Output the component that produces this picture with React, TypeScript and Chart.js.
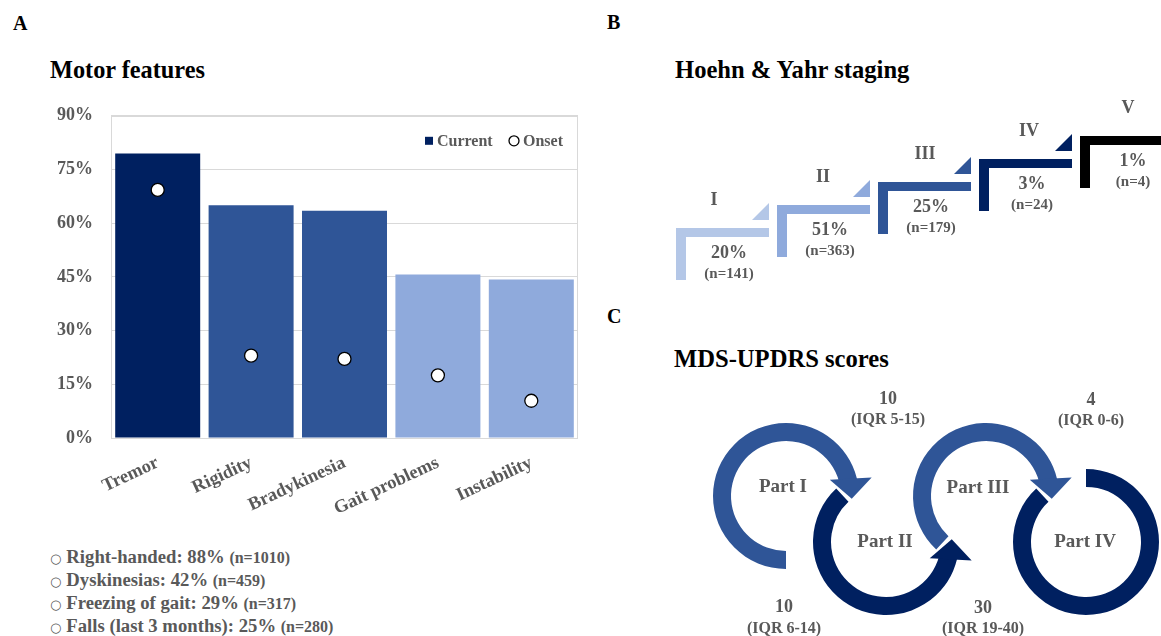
import React, { useEffect, useRef } from 'react';
import { Chart, registerables } from 'chart.js';
Chart.register(...registerables);

const FONT = '"Liberation Serif", "Times New Roman", serif';
const GRAY = '#595959';

// ---------- Panel A: motor features ----------
const motorFeatures = ['Tremor', 'Rigidity', 'Bradykinesia', 'Gait problems', 'Instability'];
const currentPct = [79.5, 65, 63.5, 45.7, 44.3];
const onsetPct = [69.3, 23, 22.1, 17.5, 10.4];
const barColors = ['#002060', '#2F5597', '#2F5597', '#8FAADC', '#8FAADC'];
const yTickValues = [0, 15, 30, 45, 60, 75, 90];

// bullet list under panel A
const bulletLabels = ['Right-handed', 'Dyskinesias', 'Freezing of gait', 'Falls (last 3 months)'];
const bulletPct = [88, 42, 29, 25];
const bulletN = [1010, 459, 317, 280];

// ---------- Panel B: Hoehn & Yahr ----------
const hyStages = ['I', 'II', 'III', 'IV', 'V'];
const hyPct = [20, 51, 25, 3, 1];
const hyN = [141, 363, 179, 24, 4];
const hyColors = ['#B4C7E7', '#8FAADC', '#2F5597', '#002060', '#000000'];

// ---------- Panel C: MDS-UPDRS ----------
const updrsParts = ['Part I', 'Part II', 'Part III', 'Part IV'];
const updrsMedian = [10, 10, 30, 4];
const updrsIqrLow = [6, 5, 19, 0];
const updrsIqrHigh = [14, 15, 40, 6];
const updrsColors = ['#2F5597', '#002060', '#2F5597', '#002060'];
const updrsSlot = [1, 2, 3, 4];
const updrsRow = [1, 0, 1, 0];

const plotBoxPlugin = {
  id: 'plotBox',
  beforeDatasetsDraw(chart: any) {
    const { ctx, chartArea: a } = chart;
    ctx.save();
    ctx.strokeStyle = '#d9d9d9';
    ctx.lineWidth = 1;
    ctx.strokeRect(Math.round(a.left) + 0.5, Math.round(a.top) + 0.5, Math.round(a.right - a.left) - 1, Math.round(a.bottom - a.top));
    ctx.restore();
  },
};

const innerLegendPlugin = {
  id: 'innerLegend',
  afterDraw(chart: any) {
    const { ctx, chartArea: a } = chart;
    const ds = chart.data.datasets;
    const cur = ds.find((d: any) => d.type === 'bar');
    const ons = ds.find((d: any) => d.type === 'line');
    const y = a.top + 25;
    ctx.save();
    ctx.font = `bold 16px ${FONT}`;
    ctx.fillStyle = GRAY;
    ctx.textBaseline = 'middle';
    ctx.textAlign = 'left';
    const xOnsetText = a.right - 55;
    const xCurText = a.right - 141;
    ctx.fillText(ons.label, xOnsetText, y + 1);
    ctx.fillText(cur.label, xCurText, y + 1);
    ctx.fillStyle = '#002060';
    ctx.fillRect(xCurText - 12, y - 4, 8, 8);
    ctx.beginPath();
    ctx.arc(xOnsetText - 9, y, 5, 0, Math.PI * 2);
    ctx.fillStyle = '#fff';
    ctx.fill();
    ctx.lineWidth = 1.3;
    ctx.strokeStyle = '#000';
    ctx.stroke();
    ctx.restore();
  },
};

const hyLabelDx = [38, 46, 47, 50, 48];

const hyPlugin = {
  id: 'hySteps',
  afterDatasetsDraw(chart: any) {
    const ctx = chart.ctx;
    const pts = chart.getDatasetMeta(0).data;
    const W = 93, T = 9, H = 52, TRI = 17, TRIGAP = 8;
    ctx.save();
    pts.forEach((p: any, i: number) => {
      const x = p.x, y = p.y;
      ctx.fillStyle = hyColors[i];
      ctx.fillRect(x, y, W, T);
      ctx.fillRect(x, y, T + 1, H);
      if (i < pts.length - 1) {
        ctx.beginPath();
        ctx.moveTo(x + W - TRI, y - TRIGAP);
        ctx.lineTo(x + W, y - TRIGAP);
        ctx.lineTo(x + W, y - TRIGAP - TRI);
        ctx.closePath();
        ctx.fill();
      }
      ctx.fillStyle = GRAY;
      ctx.textAlign = 'center';
      ctx.textBaseline = 'middle';
      ctx.font = `bold 18px ${FONT}`;
      ctx.fillText(hyStages[i], x + hyLabelDx[i], y - 28);
      ctx.fillText(hyPct[i] + '%', x + 53, y + 25);
      ctx.font = `bold 15px ${FONT}`;
      ctx.fillText(`(n=${hyN[i]})`, x + 53, y + 46);
    });
    ctx.restore();
  },
};

const RIN = 55, ROUT = 73;
const ringArcs = [
  { start: 90, end: 345, dir: 1, arrow: true },
  { start: 227, end: 15, dir: -1, arrow: true },
  { start: 133, end: 345, dir: 1, arrow: true },
  { start: 270, end: 587, dir: 1, arrow: false },
];
const partLabelOffset = [[-3, -9], [-1, 0], [-8, -8], [-1, 0]];
const scoreOffset = [[-2, 111, 133], [2, -143, -122], [-3, 112, 133], [5, -142, -121]];
const rad = (d: number) => (d * Math.PI) / 180;

const updrsPlugin = {
  id: 'updrsRings',
  afterDatasetsDraw(chart: any) {
    const ctx = chart.ctx;
    const pts = chart.getDatasetMeta(0).data;
    ctx.save();
    pts.forEach((p: any, i: number) => {
      const cx = p.x, cy = p.y;
      const r = ringArcs[i];
      ctx.fillStyle = updrsColors[i];
      const ext = r.arrow ? r.dir * 6 : 0;
      const a0 = rad(r.start), a1 = rad(r.end + ext);
      ctx.beginPath();
      ctx.arc(cx, cy, ROUT, a0, a1, r.dir < 0);
      ctx.arc(cx, cy, RIN, a1, a0, r.dir > 0);
      ctx.closePath();
      ctx.fill();
      if (r.arrow) {
        const a = rad(r.end);
        const o = rad(r.end + r.dir * 12);
        const mx = cx + 67 * Math.cos(a), my = cy + 67 * Math.sin(a);
        const ux = Math.cos(o), uy = Math.sin(o);
        const tx = r.dir * -Math.sin(o), ty = r.dir * Math.cos(o);
        ctx.beginPath();
        ctx.moveTo(mx - 21 * ux, my - 21 * uy);
        ctx.lineTo(mx + 21 * ux, my + 21 * uy);
        ctx.lineTo(mx + 20 * tx, my + 20 * ty);
        ctx.closePath();
        ctx.fill();
      }
    });
    ctx.fillStyle = GRAY;
    ctx.textAlign = 'center';
    ctx.textBaseline = 'middle';
    pts.forEach((p: any, i: number) => {
      const cx = p.x, cy = p.y;
      ctx.font = `bold 19px ${FONT}`;
      ctx.fillText(updrsParts[i], cx + partLabelOffset[i][0], cy + partLabelOffset[i][1]);
      const so = scoreOffset[i];
      ctx.font = `bold 18px ${FONT}`;
      ctx.fillText(String(updrsMedian[i]), cx + so[0], cy + so[1]);
      ctx.font = `bold 16px ${FONT}`;
      ctx.fillText(`(IQR ${updrsIqrLow[i]}-${updrsIqrHigh[i]})`, cx + so[0], cy + so[2]);
    });
    ctx.restore();
  },
};

const hiddenScatterOptions = (xmin: number, xmax: number, ymin: number, ymax: number) => ({
  animation: false as const,
  responsive: false,
  devicePixelRatio: 1,
  layout: { padding: 0 },
  plugins: { legend: { display: false }, tooltip: { enabled: false } },
  events: [] as any[],
  scales: {
    x: { type: 'linear' as const, display: false, min: xmin, max: xmax },
    y: { type: 'linear' as const, display: false, min: ymin, max: ymax },
  },
});

export default function App() {
  const aRef = useRef<HTMLCanvasElement>(null);
  const bRef = useRef<HTMLCanvasElement>(null);
  const cRef = useRef<HTMLCanvasElement>(null);

  useEffect(() => {
    const tickFont = { family: FONT, size: 18, weight: 'bold' as const };
    const chartA = new Chart(aRef.current!, {
      type: 'bar',
      data: {
        labels: motorFeatures,
        datasets: [
          {
            type: 'line',
            label: 'Onset',
            data: onsetPct,
            showLine: false,
            pointRadius: 6.5,
            pointHoverRadius: 6.5,
            pointBackgroundColor: '#ffffff',
            pointBorderColor: '#000000',
            pointBorderWidth: 1.3,
            order: 0,
          } as any,
          {
            type: 'bar',
            label: 'Current',
            data: currentPct,
            backgroundColor: barColors,
            barPercentage: 0.91,
            categoryPercentage: 1,
            order: 1,
          } as any,
        ],
      },
      options: {
        animation: false,
        responsive: false,
        devicePixelRatio: 1,
        events: [],
        layout: { padding: { top: 2, right: 22, left: 0, bottom: 0 } },
        plugins: { legend: { display: false }, tooltip: { enabled: false } },
        scales: {
          x: {
            grid: { display: false },
            border: { display: false },
            ticks: { font: { ...tickFont, size: 18.5 }, color: GRAY, minRotation: 25, maxRotation: 25, autoSkip: false, padding: 6 },
            afterFit: (s: any) => { s.height = 102; },
          },
          y: {
            min: 0,
            max: 90,
            afterBuildTicks: (s: any) => { s.ticks = yTickValues.map((v) => ({ value: v })); },
            ticks: { callback: (v: any) => v + '%', padding: 18, font: tickFont, color: GRAY },
            grid: { color: '#d9d9d9', drawTicks: false },
            border: { display: false },
            afterFit: (s: any) => { s.width = 111; },
          },
        },
      } as any,
      plugins: [plotBoxPlugin, innerLegendPlugin],
    });

    const chartB = new Chart(bRef.current!, {
      type: 'scatter',
      data: { datasets: [{ data: hyStages.map((_, i) => ({ x: i, y: i })), pointRadius: 0 }] },
      options: hiddenScatterOptions(-76 / 101, -76 / 101 + 561 / 101, 6 - 210 / 23, 6) as any,
      plugins: [hyPlugin],
    });

    const chartC = new Chart(cRef.current!, {
      type: 'scatter',
      data: { datasets: [{ data: updrsSlot.map((s, i) => ({ x: s, y: updrsRow[i] })), pointRadius: 0 }] },
      options: hiddenScatterOptions(1 - 186 / 100, 1 - 186 / 100 + 561 / 100, 1 + 196 / 46 - 336 / 46, 1 + 196 / 46) as any,
      plugins: [updrsPlugin],
    });

    return () => {
      chartA.destroy();
      chartB.destroy();
      chartC.destroy();
    };
  }, []);

  const abs = (left: number, top: number, extra: React.CSSProperties = {}): React.CSSProperties => ({
    position: 'absolute',
    left,
    top,
    margin: 0,
    fontFamily: FONT,
    fontWeight: 'bold',
    whiteSpace: 'nowrap',
    ...extra,
  });

  return (
    <div style={{ position: 'absolute', left: 0, top: 0, width: 1161, height: 636, overflow: 'hidden', background: '#fff' }}>
      <div style={abs(13, 13, { fontSize: 20, lineHeight: '20px', color: '#000' })}>A</div>
      <div style={abs(50, 58, { fontSize: 24.3, lineHeight: '24px', color: '#000' })}>Motor features</div>
      <div style={abs(607, 12, { fontSize: 20, lineHeight: '20px', color: '#000' })}>B</div>
      <div style={abs(675, 58, { fontSize: 24.6, lineHeight: '24px', color: '#000' })}>Hoehn &amp; Yahr staging</div>
      <div style={abs(607, 306, { fontSize: 20, lineHeight: '20px', color: '#000' })}>C</div>
      <div style={abs(674, 347, { fontSize: 24.6, lineHeight: '24px', color: '#000' })}>MDS-UPDRS scores</div>

      <canvas ref={aRef} width={600} height={453} style={{ position: 'absolute', left: 0, top: 87, width: 600, height: 453, display: 'block' }} />
      <canvas ref={bRef} width={561} height={210} style={{ position: 'absolute', left: 600, top: 90, width: 561, height: 210, display: 'block' }} />
      <canvas ref={cRef} width={561} height={336} style={{ position: 'absolute', left: 600, top: 300, width: 561, height: 336, display: 'block' }} />

      <div style={abs(50, 545, { color: GRAY })}>
        {bulletLabels.map((lab, i) => (
          <div key={lab} style={{ fontSize: 18.7, lineHeight: '23px', height: 23 }}>
            <span style={{ fontSize: 13, fontFamily: '"DejaVu Sans", sans-serif', fontWeight: 'normal', marginRight: 5 }}>○</span>
            {lab}: {bulletPct[i]}% <span style={{ fontSize: 16 }}>(n={bulletN[i]})</span>
          </div>
        ))}
      </div>
    </div>
  );
}
